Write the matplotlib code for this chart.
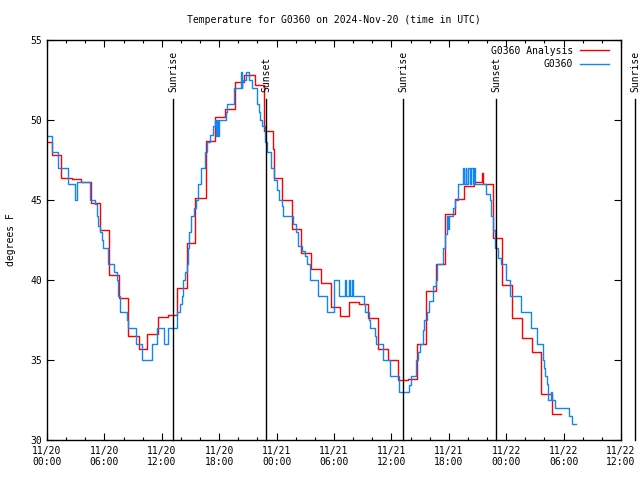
import matplotlib
matplotlib.use("Agg")
import matplotlib.pyplot as plt

# ---------------- data ----------------
# hours since 2024-11-20 00:00 UTC
analysis_t = [0, 0.55, 1.5, 2.6, 3.55, 4.6, 5.5, 6.5, 7.5, 8.5, 9.6, 10.5, 11.6, 12.6,
              13.55, 14.6, 15.5, 16.6, 17.6, 18.6, 19.6, 20.6, 21.7, 22.7, 23.6, 23.7,
              24.6, 25.6, 26.5, 27.6, 28.6, 29.65, 30.6, 31.6, 32.6, 33.6, 34.6, 35.6,
              36.65, 37.7, 38.65, 39.6, 40.7, 41.6, 42.65, 43.6, 44.6, 45.5, 45.6,
              46.6, 47.6, 48.6, 49.6, 50.65, 51.6, 52.75, 53.7]
analysis_v = [48.6, 47.8, 46.4, 46.3, 46.1, 44.8, 43.1, 40.3, 38.9, 36.5, 35.7, 36.6, 37.7, 37.8,
              39.5, 42.3, 45.1, 48.7, 50.2, 50.7, 52.4, 52.8, 52.2, 49.3, 48.2, 46.4,
              45.0, 43.2, 41.7, 40.7, 39.8, 38.3, 37.75, 38.6, 38.5, 37.6, 35.7, 35.0,
              33.75, 33.8, 36.0, 39.3, 41.0, 44.1, 45.05, 45.9, 46.15, 46.7, 46.0,
              42.6, 39.7, 37.6, 36.4, 35.5, 32.9, 31.6, 31.6]

station_t = [0.0, 0.5, 1.15, 1.2, 2.2, 2.95, 3.1, 4.5, 5.0, 5.2, 5.37, 5.5, 5.75, 5.85,
             6.41, 7.0, 7.28, 7.39, 7.63, 8.4, 8.47, 9.27, 9.96, 10.94, 11.53, 12.26,
             12.61, 13.62, 13.9, 14.08, 14.25, 14.42, 14.6, 14.7, 14.88, 15.1, 15.37,
             15.57, 15.82, 16.1, 16.5, 16.7, 17.0, 17.4, 17.56, 17.65, 17.72, 17.88,
             17.95, 18.68, 18.78, 19.58, 20.28, 20.35, 20.42, 20.77, 21.1, 21.4, 22.0,
             22.16, 22.26, 22.44, 22.79, 22.96, 23.38, 23.73, 24.07, 24.28, 24.53,
             24.63, 25.75, 26.03, 26.27, 26.62, 26.97, 27.14, 27.49, 28.36, 29.3, 30.0,
             30.52, 31.15, 31.3, 31.55, 31.65, 31.85, 31.95, 33.13, 33.24, 33.69,
             33.76, 34.28, 34.39, 35.15, 35.85, 36.83, 37.87, 38.05, 38.57, 38.81,
             38.99, 39.27, 39.41, 39.69, 39.96, 40.31, 40.66, 40.73, 41.36, 41.6,
             41.78, 41.9, 41.98, 42.47, 42.65, 42.93, 43.45, 43.6, 43.75, 43.85, 44.0,
             44.2, 44.3, 44.5, 44.6, 44.75, 44.91, 45.89, 46.3, 46.41, 46.65, 46.83,
             47.18, 47.46, 47.98, 48.4, 49.51, 50.59, 51.18, 51.81, 51.95, 52.05,
             52.23, 52.33, 52.4, 52.7, 52.8, 53.1, 54.6, 54.84, 55.26]
station_v = [49.0, 48.0, 47.6, 47.0, 46.0, 45.0, 46.1, 45.0, 44.75, 44.0, 43.4, 43.0, 42.5, 42.0,
             41.0, 40.5, 40.0, 39.0, 38.0, 37.5, 37.0, 36.0, 35.0, 36.0, 37.0, 36.0,
             37.0, 38.0, 38.5, 39.0, 40.0, 40.5, 41.0, 42.0, 43.0, 44.0, 44.5,
             45.0, 46.0, 47.0, 48.0, 48.6, 49.06, 49.6, 50.0, 49.0, 50.0, 49.0,
             50.0, 50.5, 51.0, 52.0, 53.0, 52.0, 52.5, 53.0, 52.5, 52.0, 51.0,
             50.5, 50.0, 49.6, 48.65, 48.0, 47.0, 46.25, 45.6, 45.0, 44.6,
             44.0, 43.5, 43.0, 42.1, 41.8, 41.5, 41.0, 40.0, 39.0, 38.0, 40.0,
             39.0, 40.0, 39.0, 40.0, 39.0, 40.0, 39.0, 38.5, 38.0, 37.5,
             37.0, 36.5, 36.0, 35.0, 34.0, 33.0, 33.45, 34.0, 35.0, 35.5,
             36.0, 36.9, 37.5, 38.0, 38.7, 39.6, 40.0, 41.0, 42.0, 42.9,
             44.0, 43.2, 44.0, 44.5, 45.0, 46.0, 47.0, 46.0, 47.0, 46.0, 47.0,
             46.0, 47.0, 46.0, 47.0, 46.0, 46.0, 45.4, 45.0, 44.0, 43.1, 42.0,
             41.4, 41.0, 40.0, 39.0, 38.0, 37.0, 36.0, 35.0, 34.5, 34.0,
             33.5, 33.0, 32.5, 33.0, 32.5, 32.0, 31.5, 31.0, 31.0]

sun_events = ["Sunrise", "Sunset", "Sunrise", "Sunset", "Sunrise"]
sun_times = [13.2, 22.92, 37.25, 46.97, 61.46]

x_ticks = [0, 6, 12, 18, 24, 30, 36, 42, 48, 54, 60]
x_tick_labels = ["11/20\n00:00", "11/20\n06:00", "11/20\n12:00", "11/20\n18:00",
                 "11/21\n00:00", "11/21\n06:00", "11/21\n12:00", "11/21\n18:00",
                 "11/22\n00:00", "11/22\n06:00", "11/22\n12:00"]
y_ticks = [30, 35, 40, 45, 50, 55]

# ---------------- plot ----------------
FONT = "DejaVu Sans Mono"
FS = 7
plt.rcParams["font.family"] = FONT
plt.rcParams["font.size"] = FS

fig = plt.figure(figsize=(6.4, 4.8), dpi=100)
ax = fig.add_axes([47 / 640, 1 - 440 / 480, (621 - 47) / 640, 400 / 480])

ax.plot(analysis_t, analysis_v, drawstyle="steps-post", color="#FF0000", lw=1.0,
        label="G0360 Analysis")
ax.plot(station_t, station_v, drawstyle="steps-post", color="#1086F5", lw=1.0,
        label="G0360")

line_top = 51.3
for name, t in zip(sun_events, sun_times):
    ax.plot([t, t], [30, line_top], color="black", lw=1.0, clip_on=False)
    ax.text(t, 51.75, name, rotation=90, ha="center", va="bottom", fontsize=FS,
            clip_on=False)

ax.set_xlim(0, 60)
ax.set_ylim(30, 55)
ax.set_xticks(x_ticks)
ax.set_xticklabels(x_tick_labels)
ax.set_xticks(range(0, 61, 2), minor=True)
ax.set_yticks(y_ticks)
ax.tick_params(axis="both", which="major", direction="in", length=5, width=0.8,
               top=True, right=True, labelsize=FS)
ax.tick_params(axis="x", which="minor", direction="in", length=2.5, width=0.8,
               top=True)
ax.tick_params(axis="x", pad=4)
for s in ax.spines.values():
    s.set_linewidth(1.0)

ax.set_ylabel("degrees F", fontsize=FS, labelpad=10)
ax.set_title("Temperature for G0360 on 2024-Nov-20 (time in UTC)", fontsize=FS, pad=12)

leg = ax.legend(loc="upper right", frameon=False, markerfirst=False, fontsize=FS,
                handlelength=3.0, handletextpad=0.7, labelspacing=0.35,
                borderaxespad=0.3, bbox_to_anchor=(1.0 - 5 / 574, 1.0 + 1 / 400))

fig.savefig("out.png", dpi=100)
